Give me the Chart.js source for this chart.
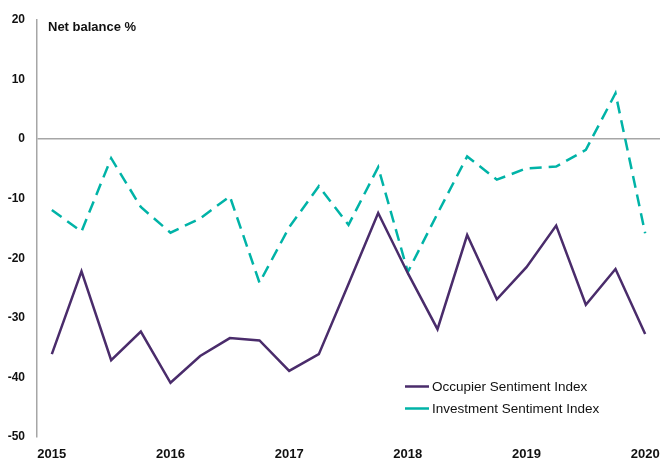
<!DOCTYPE html>
<html>
<head>
<meta charset="utf-8">
<script src="https://cdn.jsdelivr.net/npm/chart.js@4"></script>
<style>
  html, body { margin: 0; padding: 0; background: #fff; }
  #wrap { width: 660px; height: 459px; }
</style>
</head>
<body>
<div id="wrap"><canvas id="sentimentChart"></canvas></div>
<script>
// quarterly, Q1 2015 to Q1 2020
const quarters = [
  "2015 Q1", "2015 Q2", "2015 Q3", "2015 Q4",
  "2016 Q1", "2016 Q2", "2016 Q3", "2016 Q4",
  "2017 Q1", "2017 Q2", "2017 Q3", "2017 Q4",
  "2018 Q1", "2018 Q2", "2018 Q3", "2018 Q4",
  "2019 Q1", "2019 Q2", "2019 Q3", "2019 Q4",
  "2020 Q1"
];
const xTickLabels = [
  "2015", "", "", "", "2016", "", "", "", "2017", "", "", "",
  "2018", "", "", "", "2019", "", "", "", "2020"
];
const occupier = [-36.1, -22.2, -37.1, -32.3, -40.9, -36.4, -33.4, -33.8, -38.9, -36.1, -24.3,
  -12.4, -22.5, -31.9, -16.1, -26.9, -21.5, -14.5, -27.8, -21.8, -32.7];
const investment = [-11.9, -15.5, -3.2, -11.4, -15.7, -13.3, -9.6, -24.1, -14.8, -7.9, -14.4,
  -4.7, -22.3, -12.5, -2.9, -6.8, -4.9, -4.6, -1.8, 7.7, -15.8];
const seriesNames = ["Occupier Sentiment Index", "Investment Sentiment Index"];
const seriesColors = ["#4a2c6b", "#00b3a7"];

const FONT = "'Liberation Sans', Arial, sans-serif";

// y-axis caption and the legend inside the plot
const extras = {
  id: "extras",
  afterDraw(chart) {
    const ctx = chart.ctx;
    const area = chart.chartArea;
    ctx.save();
    ctx.fillStyle = "#111";
    ctx.font = "bold 13px " + FONT;
    ctx.textBaseline = "middle";
    ctx.textAlign = "left";
    ctx.fillText("Net balance %", area.left + 11, area.top + 7);

    ctx.font = "13.5px " + FONT;
    const x0 = 405;
    [386.5, 408.5].forEach((y, i) => {
      ctx.strokeStyle = seriesColors[i];
      ctx.lineWidth = 2.5;
      ctx.beginPath();
      ctx.moveTo(x0, y);
      ctx.lineTo(x0 + 24, y);
      ctx.stroke();
      ctx.fillStyle = "#111";
      ctx.fillText(seriesNames[i], x0 + 27, y + 0.5);
    });
    ctx.restore();
  }
};

new Chart(document.getElementById("sentimentChart"), {
  type: "line",
  data: {
    labels: quarters,
    datasets: [
      {
        label: seriesNames[0],
        data: occupier,
        borderColor: seriesColors[0],
        borderWidth: 2.5,
        pointRadius: 0,
        tension: 0,
        fill: false
      },
      {
        label: seriesNames[1],
        data: investment,
        borderColor: seriesColors[1],
        borderWidth: 2.5,
        borderDash: [12, 7],
        pointRadius: 0,
        tension: 0,
        fill: false
      }
    ]
  },
  options: {
    responsive: true,
    maintainAspectRatio: false,
    animation: false,
    layout: { autoPadding: false, padding: { top: 20, right: 0, bottom: 0, left: 0 } },
    plugins: {
      legend: { display: false },
      tooltip: { enabled: false }
    },
    scales: {
      x: {
        offset: true,
        grid: { display: false },
        border: { display: false },
        ticks: {
          autoSkip: false,
          maxRotation: 0,
          padding: 2,
          color: "#111",
          font: { family: FONT, size: 13, weight: "bold" },
          callback: (v, i) => xTickLabels[i]
        },
        afterFit: (axis) => {
          axis.height = 22;
          // plot runs right up to the canvas edge
          axis.paddingLeft = 0;
          axis.paddingRight = 0;
        }
      },
      y: {
        min: -50,
        max: 20,
        grid: {
          drawTicks: false,
          color: (c) => (c.tick && c.tick.value === 0 ? "#a6a6a6" : "rgba(0,0,0,0)"),
          lineWidth: 1.5
        },
        border: { display: true, color: "#a6a6a6", width: 1.5 },
        ticks: {
          stepSize: 10,
          padding: 12,
          color: "#111",
          font: { family: FONT, size: 12, weight: "bold" }
        },
        afterFit: (axis) => { axis.width = 37; }
      }
    }
  },
  plugins: [extras]
});
</script>
</body>
</html>
